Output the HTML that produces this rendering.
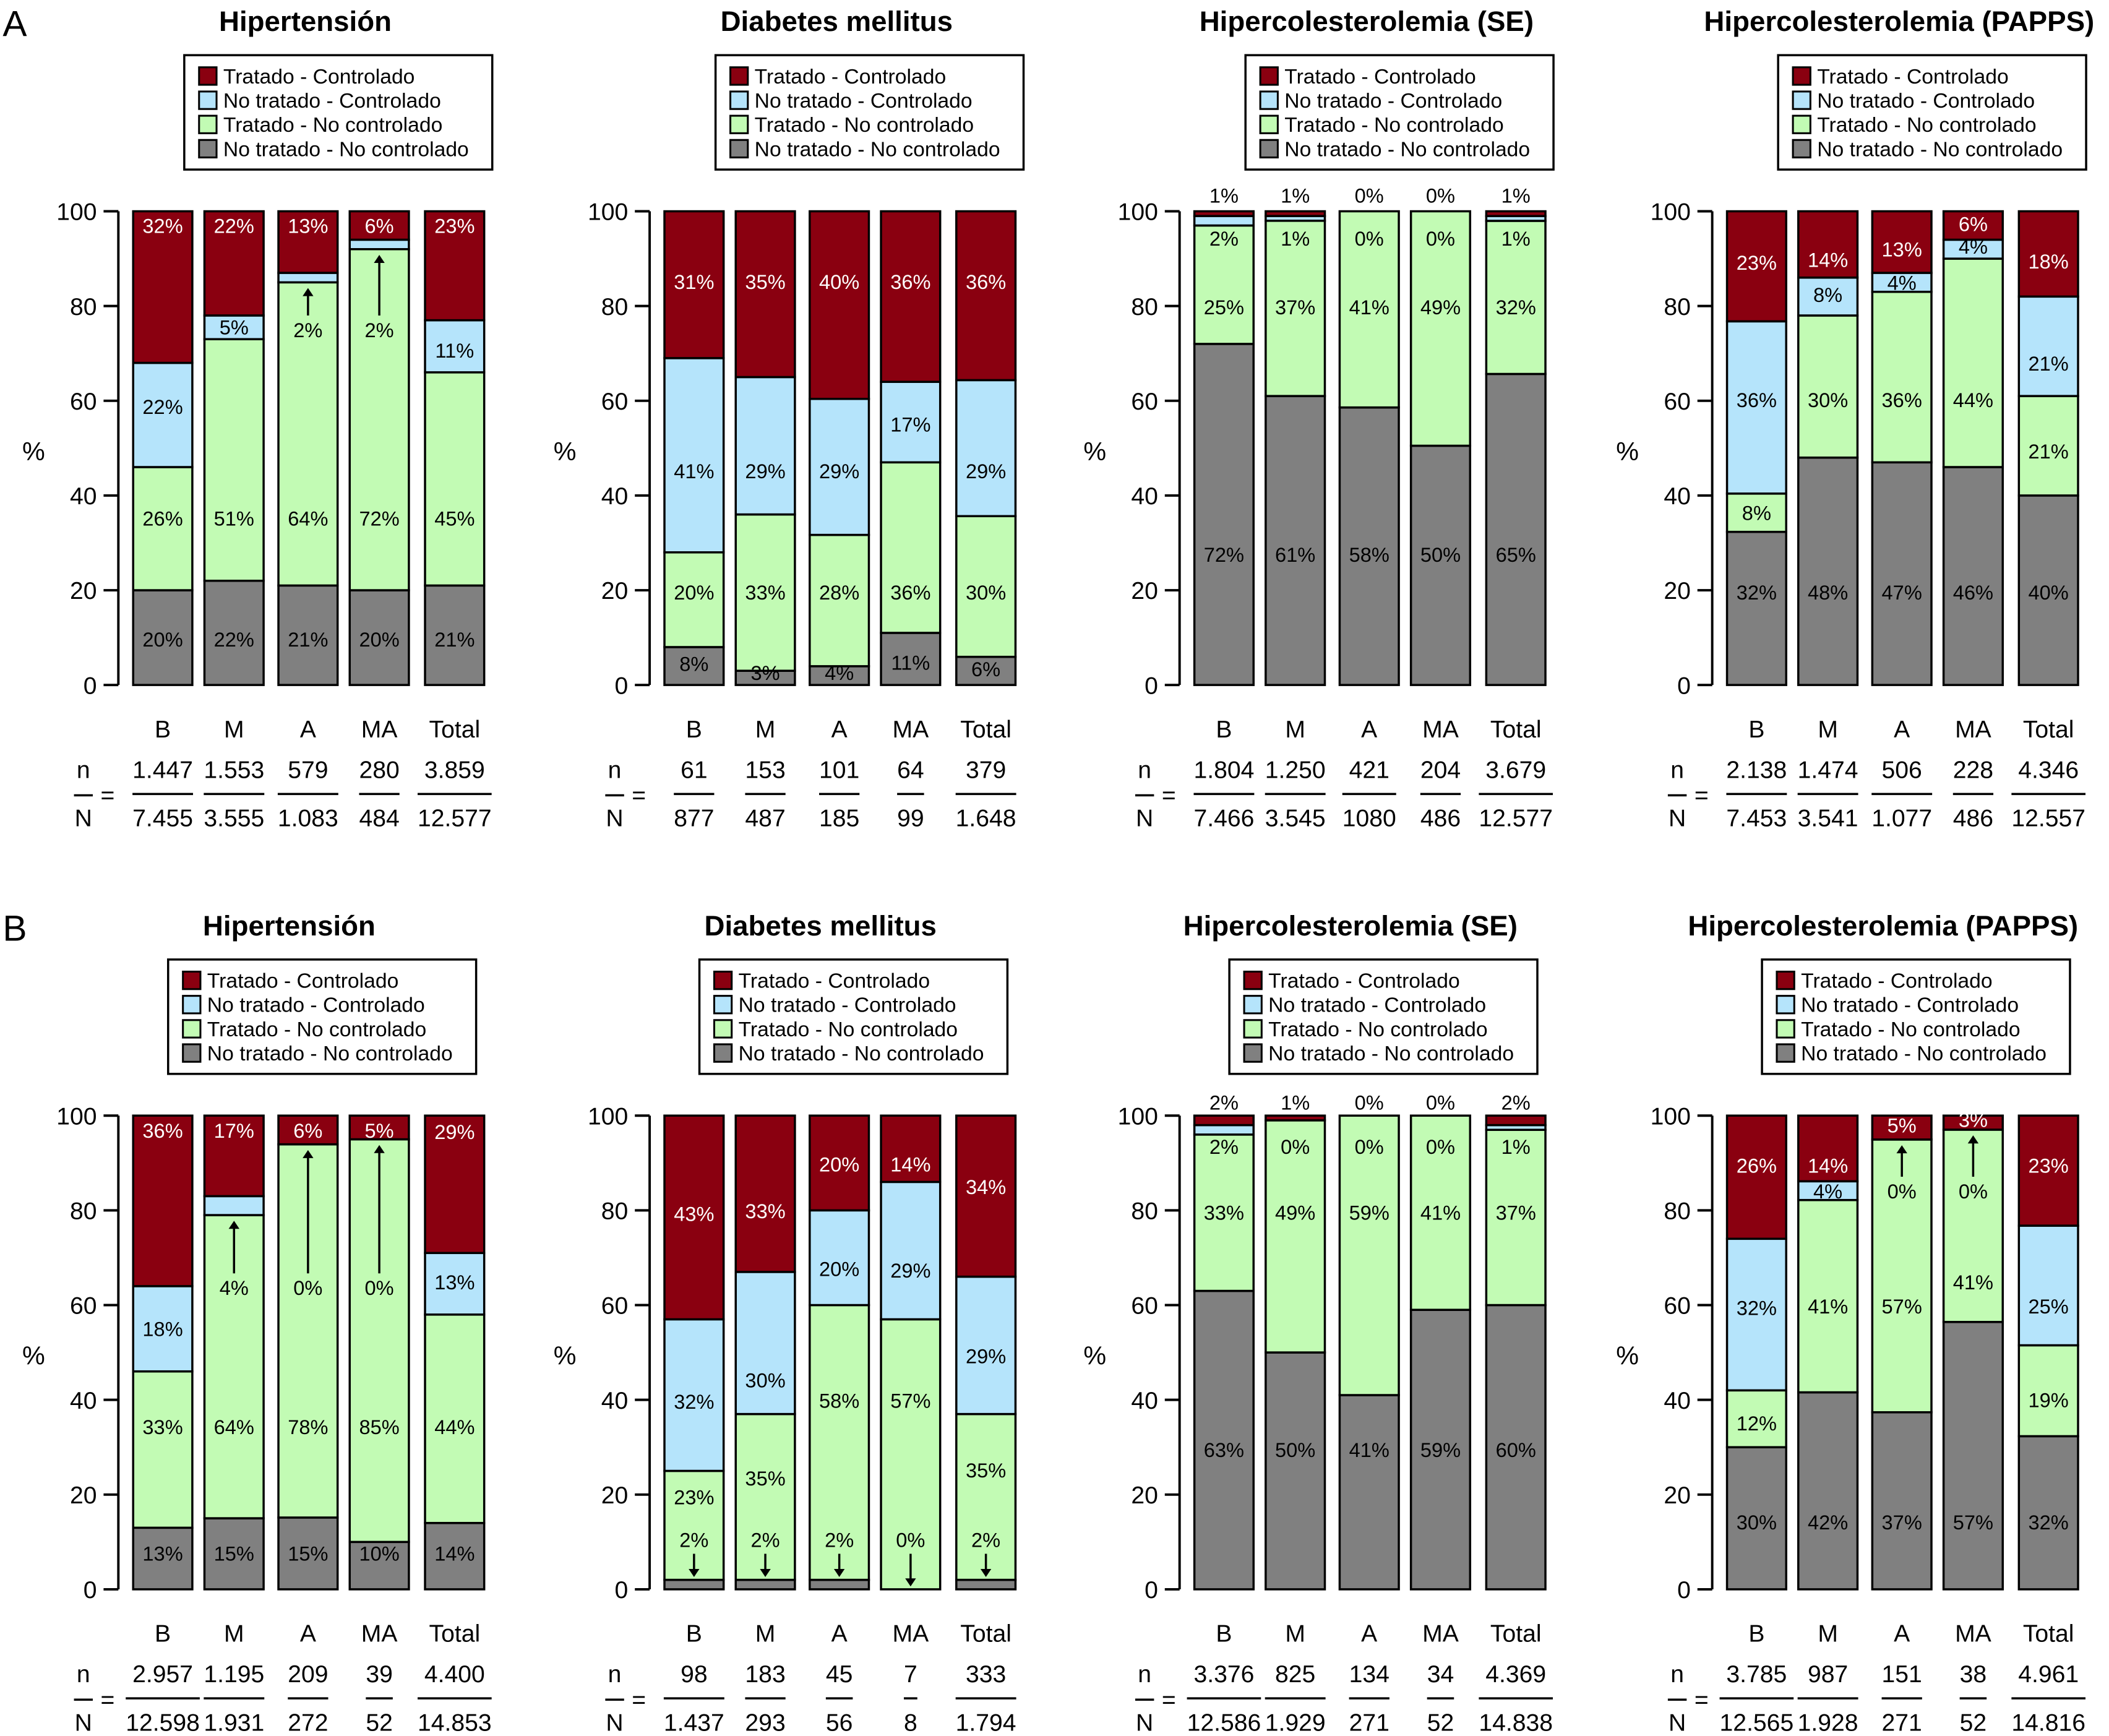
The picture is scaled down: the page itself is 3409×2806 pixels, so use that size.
<!DOCTYPE html>
<html><head><meta charset="utf-8"><style>
html,body{margin:0;padding:0;background:#fff}
svg{display:block}
text{font-family:"Liberation Sans",sans-serif}
</style></head><body>
<svg id="fig" xmlns="http://www.w3.org/2000/svg" width="3409" height="2806" viewBox="0 0 1568 1290" preserveAspectRatio="none">
<rect width="1568" height="1290" fill="#fff"/>
<text x="2" y="27" font-size="27">A</text>
<text x="2" y="699" font-size="27">B</text>
</svg>
<script>
const categories=["B","M","A","MA","Total"];
const legendLabels=["Tratado - Controlado","No tratado - Controlado","Tratado - No controlado","No tratado - No controlado"];
// Row A
const hipA_grey=[20,22,21,20,21], hipA_green=[26,51,64,72,45], hipA_blue=[22,5,2,2,11], hipA_red=[32,22,13,6,23];
const hipA_n=["1.447","1.553","579","280","3.859"], hipA_N=["7.455","3.555","1.083","484","12.577"];
const diaA_grey=[8,3,4,11,6], diaA_green=[20,33,28,36,30], diaA_blue=[41,29,29,17,29], diaA_red=[31,35,40,36,36];
const diaA_n=["61","153","101","64","379"], diaA_N=["877","487","185","99","1.648"];
const seA_grey=[72,61,58,50,65], seA_green=[25,37,41,49,32], seA_blue=[2,1,0,0,1], seA_red=[1,1,0,0,1];
const seA_n=["1.804","1.250","421","204","3.679"], seA_N=["7.466","3.545","1080","486","12.577"];
const paA_grey=[32,48,47,46,40], paA_green=[8,30,36,44,21], paA_blue=[36,8,4,4,21], paA_red=[23,14,13,6,18];
const paA_n=["2.138","1.474","506","228","4.346"], paA_N=["7.453","3.541","1.077","486","12.557"];
// Row B
const hipB_grey=[13,15,15,10,14], hipB_green=[33,64,78,85,44], hipB_blue=[18,4,0,0,13], hipB_red=[36,17,6,5,29];
const hipB_n=["2.957","1.195","209","39","4.400"], hipB_N=["12.598","1.931","272","52","14.853"];
const diaB_grey=[2,2,2,0,2], diaB_green=[23,35,58,57,35], diaB_blue=[32,30,20,29,29], diaB_red=[43,33,20,14,34];
const diaB_n=["98","183","45","7","333"], diaB_N=["1.437","293","56","8","1.794"];
const seB_grey=[63,50,41,59,60], seB_green=[33,49,59,41,37], seB_blue=[2,0,0,0,1], seB_red=[2,1,0,0,2];
const seB_n=["3.376","825","134","34","4.369"], seB_N=["12.586","1.929","271","52","14.838"];
const paB_grey=[30,42,37,57,32], paB_green=[12,41,57,41,19], paB_blue=[32,4,0,0,25], paB_red=[26,14,5,3,23];
const paB_n=["3.785","987","151","38","4.961"], paB_N=["12.565","1.928","271","52","14.816"];

// label anchor heights (% of axis) per chart: [grey, green, blue, red] rows (layout, not data)
const labelPos=[
 [[9.7,9.7,9.7,9.7,9.7],[35.2,35.2,35.2,35.2,35.2],[58.8,75.6,75,75,70.7],[97,97,97,97,97]],
 [[4.5,2.6,2.6,4.8,3.4],[19.6,19.6,19.6,19.6,19.6],[45.2,45.2,45.2,55.1,45.2],[85.2,85.2,85.2,85.2,85.2]],
 [[27.6,27.6,27.6,27.6,27.6],[79.8,79.8,79.8,79.8,79.8],[94.3,94.3,94.3,94.3,94.3],[103.4,103.4,103.4,103.4,103.4]],
 [[19.6,19.6,19.6,19.6,19.6],[36.4,60.2,60.2,60.2,49.4],[60.2,82.4,85,92.6,67.9],[89.2,89.8,92,97.4,89.5]],
 [[7.6,7.6,7.6,7.6,7.6],[34.3,34.3,34.3,34.3,34.3],[55,63.7,63.7,63.7,64.9],[96.9,96.9,96.9,96.9,96.6]],
 [[10.5,10.5,10.5,10.5,10.5],[19.5,23.5,39.9,39.9,25.2],[39.7,44.2,67.7,67.4,49.3],[79.3,79.9,89.8,89.8,85]],
 [[29.5,29.5,29.5,29.5,29.5],[79.6,79.6,79.6,79.6,79.6],[93.5,93.5,93.5,93.5,93.5],[102.8,102.8,102.8,102.8,102.8]],
 [[14.2,14.2,14.2,14.2,14.2],[35.1,59.8,59.8,64.9,40],[59.5,84.1,84.1,84.1,59.8],[89.5,89.5,98,99.2,89.5]]
];
const colors={red:"#8a0010",blue:"#b5e4fb",green:"#c2fbb4",grey:"#808080"};
const charts=[
 {title:"Hipertensión",row:0,col:0,grey:hipA_grey,green:hipA_green,blue:hipA_blue,red:hipA_red,n:hipA_n,N:hipA_N,mode:"blueArrow"},
 {title:"Diabetes mellitus",row:0,col:1,grey:diaA_grey,green:diaA_green,blue:diaA_blue,red:diaA_red,n:diaA_n,N:diaA_N,mode:"none"},
 {title:"Hipercolesterolemia (SE)",row:0,col:2,grey:seA_grey,green:seA_green,blue:seA_blue,red:seA_red,n:seA_n,N:seA_N,mode:"se"},
 {title:"Hipercolesterolemia (PAPPS)",row:0,col:3,grey:paA_grey,green:paA_green,blue:paA_blue,red:paA_red,n:paA_n,N:paA_N,mode:"blueArrow"},
 {title:"Hipertensión",row:1,col:0,grey:hipB_grey,green:hipB_green,blue:hipB_blue,red:hipB_red,n:hipB_n,N:hipB_N,mode:"blueArrow"},
 {title:"Diabetes mellitus",row:1,col:1,grey:diaB_grey,green:diaB_green,blue:diaB_blue,red:diaB_red,n:diaB_n,N:diaB_N,mode:"greyArrow"},
 {title:"Hipercolesterolemia (SE)",row:1,col:2,grey:seB_grey,green:seB_green,blue:seB_blue,red:seB_red,n:seB_n,N:seB_N,mode:"se"},
 {title:"Hipercolesterolemia (PAPPS)",row:1,col:3,grey:paB_grey,green:paB_green,blue:paB_blue,red:paB_red,n:paB_n,N:paB_N,mode:"blueArrow"}
];
const colOff=[0,395,789,1185], rowOff=[0,672];
const barCx=[121,174,229,282,338], barW=44;
const svg=document.getElementById('fig'), NS="http://www.w3.org/2000/svg";
function mk(tag,attrs,parent,txt){const e=document.createElementNS(NS,tag);for(const k in attrs)e.setAttribute(k,attrs[k]);if(txt!==undefined)e.textContent=txt;(parent||svg).appendChild(e);return e;}
function arrow(g,x,y1,y2){
  const l=mk('line',{x1:x,y1:y1,x2:x,y2:y2+(y2<y1?5:-5),stroke:'#000','stroke-width':1.6},g);
  
  const d=y2<y1?6:-6;
  const p=mk('polygon',{points:`${x},${y2} ${x-4},${y2+d} ${x+4},${y2+d}`,fill:'#000'},g);
  
}
charts.forEach((c,ci)=>{
  const ox=colOff[c.col], oy=rowOff[c.row], lx=c.row?-12:0;
  const g=mk('g',{});
  
  
  const y=v=>oy+509-v*3.52;
  const t=mk('text',{x:ox+227+lx,y:oy+23,'font-size':21,'font-weight':'bold','text-anchor':'middle'},g,c.title);
  
  const lg=mk('g',{},g);
  
  mk('rect',{x:ox+137+lx,y:oy+41,width:229,height:85,fill:'#fff',stroke:'#000','stroke-width':1.6},lg);
  const lc=[colors.red,colors.blue,colors.green,colors.grey];
  legendLabels.forEach((lab,i)=>{
    const e=mk('g',{},lg);
    
    mk('rect',{x:ox+148+lx,y:oy+50+i*18,width:13,height:13,fill:lc[i],stroke:'#000','stroke-width':1.4},e);
    mk('text',{x:ox+166+lx,y:oy+62+i*18,'font-size':15.5},e,lab);
  });
  const ax=mk('g',{},g);
  
  mk('line',{x1:ox+88,y1:y(100),x2:ox+88,y2:y(0),stroke:'#000','stroke-width':1.8},ax);
  [0,20,40,60,80,100].forEach(v=>{
    mk('line',{x1:ox+77,y1:y(v),x2:ox+88,y2:y(v),stroke:'#000','stroke-width':1.8},ax);
    mk('text',{x:ox+72,y:y(v)+6.5,'font-size':18,'text-anchor':'end'},ax,String(v));
  });
  const yt=mk('text',{x:ox+25,y:oy+342,'font-size':19,'text-anchor':'middle'},g,'%');
  
  const lp=labelPos[ci];
  categories.forEach((cat,i)=>{
    const vals=[c.grey[i],c.green[i],c.blue[i],c.red[i]], keys=['grey','green','blue','red'];
    const sum=vals.reduce((a,b)=>a+b,0)||1;
    const bg=mk('g',{},g);
    
    const x0=ox+barCx[i]-barW/2, cx=ox+barCx[i];
    let cum=0; const bounds=[];
    vals.forEach((v,k)=>{
      const b=cum/sum*100, tp=(cum+v)/sum*100; bounds.push([b,tp]); cum+=v;
      if(v>0){
        const r=mk('rect',{x:x0,y:y(tp),width:barW,height:y(b)-y(tp),fill:colors[keys[k]],stroke:'#000','stroke-width':1.6},bg);
        
      }
    });
    vals.forEach((v,k)=>{
      const [b,tp]=bounds[k]; let ly=lp[k][i], arr=null;
      if(c.mode==='blueArrow'&&k===2&&ly<b-3){arr=[ly+3,b-1.2];}
      else if(c.mode==='greyArrow'&&k===0&&v<3){arr=[ly-3,Math.max(tp,0)+0.6];}
      const tx=mk('text',{x:cx,y:y(ly)+5.5,'font-size':15,'text-anchor':'middle',fill:k===3&&c.mode!=='se'?'#fff':'#000'},bg,v+'%');
      
      if(arr) arrow(bg,cx,y(arr[0]),y(arr[1]));
    });
    const cl=mk('text',{x:cx,y:oy+548,'font-size':18,'text-anchor':'middle'},g,cat);
    
    const nt=mk('text',{x:cx,y:oy+578,'font-size':18,'text-anchor':'middle'},g,c.n[i]);
    
    const Nt=mk('text',{x:cx,y:oy+614,'font-size':18,'text-anchor':'middle'},g,c.N[i]);
    
    let w=44; try{w=Math.max(nt.getBBox().width,Nt.getBBox().width);}catch(e){}
    const fl=mk('line',{x1:cx-w/2,y1:oy+590,x2:cx+w/2,y2:oy+590,stroke:'#000','stroke-width':1.6},g);
    
  });
  mk('text',{x:ox+62,y:oy+578,'font-size':18,'text-anchor':'middle'},g,'n');
  mk('text',{x:ox+62,y:oy+614,'font-size':18,'text-anchor':'middle'},g,'N');
  mk('line',{x1:ox+55,y1:oy+591,x2:ox+69,y2:oy+591,stroke:'#000','stroke-width':1.6},g);
  mk('text',{x:ox+80,y:oy+597,'font-size':18,'text-anchor':'middle'},g,'=');
});
</script>
</body></html>
